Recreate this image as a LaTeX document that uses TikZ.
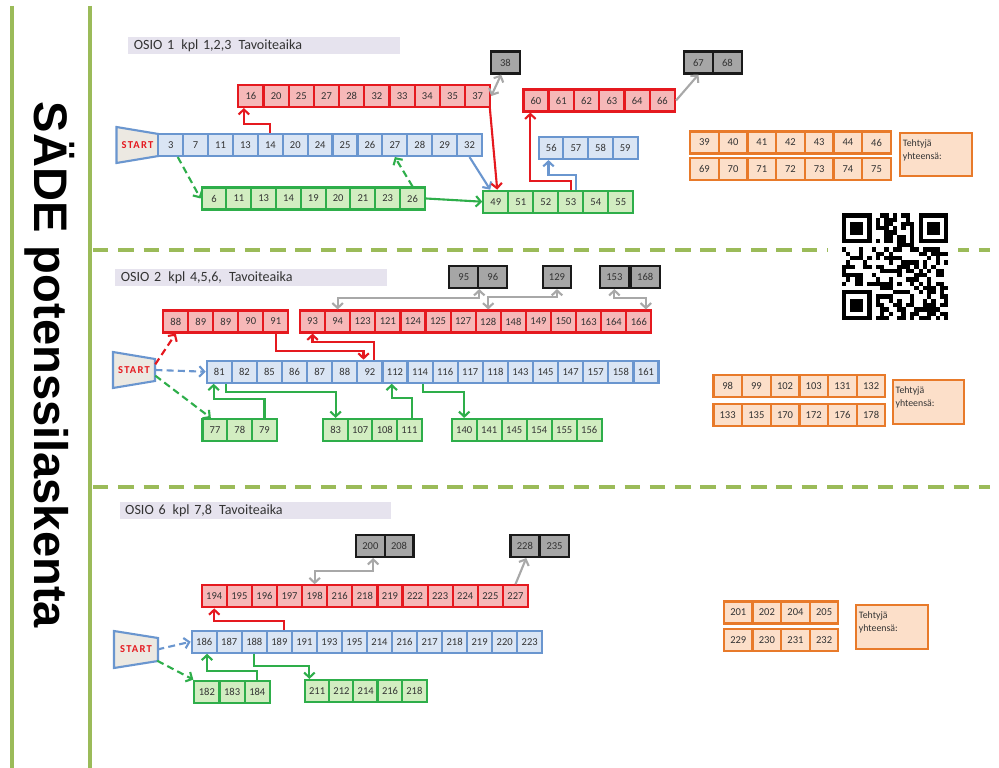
\documentclass[tikz,border=0pt]{standalone}
\usepackage{fontspec}
\setmainfont{Carlito}
\newfontfamily\titlefont{Liberation Sans}
\newfontfamily\startfont[LetterSpace=12]{Carlito}
\usetikzlibrary{arrows.meta}

\definecolor{redline}{HTML}{E5191F}
\definecolor{redfill}{HTML}{F6B8B8}
\definecolor{blueline}{HTML}{6A96CF}
\definecolor{bluefill}{HTML}{DAE5F4}
\definecolor{greenline}{HTML}{2EAE4A}
\definecolor{greenfill}{HTML}{D2EDC1}
\definecolor{grayline}{HTML}{1A1A1A}
\definecolor{grayfill}{HTML}{A6A6A6}
\definecolor{grayarr}{HTML}{A8A8A8}
\definecolor{orangeline}{HTML}{E87A2A}
\definecolor{orangefill}{HTML}{FCDFC9}
\definecolor{sepgreen}{HTML}{9BBB59}
\definecolor{headfill}{HTML}{E6E3EE}
\definecolor{startfill}{HTML}{ECE9E2}
\definecolor{celltext}{HTML}{333333}

\tikzset{
  cell/.style={draw, line width=1.5pt, minimum width=0.625cm, minimum height=0.55cm, inner sep=0pt, text=celltext, font=\fontsize{7.5}{7.5}\selectfont},
  redcell/.style={cell, draw=redline, fill=redfill},
  bluecell/.style={cell, draw=blueline, fill=bluefill},
  greencell/.style={cell, draw=greenline, fill=greenfill},
  graycell/.style={cell, draw=grayline, fill=grayfill, minimum width=0.72cm},
  orangecell/.style={cell, draw=orangeline, fill=orangefill, minimum width=0.71cm},
  totalbox/.style={draw=orangeline, fill=orangefill, line width=1.5pt, inner sep=2pt, anchor=north west, text=celltext, font=\fontsize{7}{9}\selectfont},
  headbar/.style={fill=headfill, anchor=west, minimum height=0.42cm, text width=6.5cm, inner xsep=4pt, inner ysep=0pt, align=left, text=celltext, font=\fontsize{10}{10}\selectfont},
  startshape/.style={draw=blueline, fill=startfill, line width=1.5pt},
  starttext/.style={minimum width=1.05cm, minimum height=0.55cm, inner sep=0pt, text=redline, font=\fontsize{7.5}{7.5}\startfont\bfseries},
  titletext/.style={font=\fontsize{33.5}{33.5}\titlefont\bfseries},
  sepline/.style={draw=sepgreen, line width=2.2pt, dash pattern=on 11pt off 7pt},
  vline/.style={draw=sepgreen, line width=2.2pt},
  redarrow/.style={draw=redline, line width=1.5pt, ->},
  bluearrow/.style={draw=blueline, line width=1.5pt, ->},
  greenarrow/.style={draw=greenline, line width=1.5pt, ->},
  grayarrow/.style={draw=grayarr, line width=1.5pt, ->},
  dashedarrow/.style={dash pattern=on 5pt off 3pt}
}

\begin{document}
\begin{tikzpicture}[x=0.025cm, y=-0.025cm, >={Straight Barb[length=3.5pt,width=7.5pt]}]

\fill[white] (0,0) rectangle (999,768);
\useasboundingbox (0,0) rectangle (999,768);

\draw[vline] (12,6) -- (12,768);
\draw[vline] (90,6) -- (90,768);
\node[titletext, rotate=-90] (title) at (50,365) {SÄDE potenssilaskenta};

\draw[sepline] (93,250) -- (990,250);
\draw[sepline] (93,487) -- (990,487);

\coordinate (start1) at (137.5,145);
\coordinate (start2) at (134,370);
\coordinate (start3) at (136,649.5);

\node[headbar] (h1) at (128,45.5) {OSIO 1\enspace kpl 1,2,3\enspace Tavoiteaika};
\node[headbar] (h2) at (115,277.5) {OSIO 2\enspace kpl 4,5,6,\enspace Tavoiteaika};
\node[headbar] (h3) at (119.3,510.6) {OSIO 6\enspace kpl 7,8\enspace Tavoiteaika};

\draw[startshape] (start1) ++(-21,-18) -- ++(42,7) -- ++(0,22) -- ++(-42,7) -- cycle;
\draw[startshape] (start2) ++(-21,-18) -- ++(42,7) -- ++(0,22) -- ++(-42,7) -- cycle;
\draw[startshape] (start3) ++(-22,-18.5) -- ++(44,7) -- ++(0,23) -- ++(-44,7) -- cycle;
\node[starttext] (s1) at (start1) {START};
\node[starttext] (s2) at (start2) {START};
\node[starttext] (s3) at (start3) {START};

\foreach \v [count=\i] in {3,7,11,13,14,20,24,25,26,27,28,29,32}
  \node[bluecell] (b1-\i) at ({158.3+(\i-0.5)*24.9},145) {\v};
\foreach \v [count=\i] in {16,20,25,27,28,32,33,34,35,37}
  \node[redcell] (r1-\i) at ({238.3+(\i-0.5)*25.2},96) {\v};
\foreach \v [count=\i] in {6,11,13,14,19,20,21,23,26}
  \node[greencell] (g1-\i) at ({201.7+(\i-0.5)*24.8},198.5) {\v};
\foreach \v [count=\i] in {49,51,52,53,54,55}
  \node[greencell] (g1b-\i) at ({483.3+(\i-0.5)*25},201.7) {\v};
\foreach \v [count=\i] in {56,57,58,59}
  \node[bluecell] (b1b-\i) at ({539+(\i-0.5)*24.6},148) {\v};
\foreach \v [count=\i] in {60,61,62,63,64,66}
  \node[redcell] (r1b-\i) at ({523.3+(\i-0.5)*25.3},100.5) {\v};
\foreach \v [count=\i] in {38}
  \node[graycell] (k1-\i) at ({490.7+(\i-0.5)*29.3},62.5) {\v};
\foreach \v [count=\i] in {67,68}
  \node[graycell] (k1b-\i) at ({684+(\i-0.5)*28.9},62.5) {\v};
\foreach \v [count=\i] in {39,40,41,42,43,44,46}
  \node[orangecell] (o1a-\i) at ({690+(\i-0.5)*28.7},142.5) {\v};
\foreach \v [count=\i] in {69,70,71,72,73,74,75}
  \node[orangecell] (o1b-\i) at ({690+(\i-0.5)*28.7},169) {\v};
\node[totalbox] (t1) at (899,131.7) {\parbox[c][0.95cm][t]{1.65cm}{\vspace{3pt}Tehtyjä\\yhteensä:}};

\draw[redarrow] (b1-5.north) -- ++(0,-9) -| ([xshift=-5pt]r1-1.south);
\draw[greenarrow, dashedarrow] ([xshift=5pt]b1-1.south) -- (g1-1.west);
\draw[greenarrow, dashedarrow] (g1-9.north) -- (b1-10.south);
\draw[greenarrow] (g1-9.east) -- (g1b-1.west);
\draw[bluearrow] (b1-13.south) -- ([xshift=-4pt]g1b-1.north);
\draw[redarrow] ([xshift=-1pt]r1-10.south east) -- ([xshift=1pt]g1b-1.north);
\draw[grayarrow, <->] (r1-10.east) -- ([xshift=-3pt]k1-1.south);
\draw[grayarrow] (r1b-6.east) -- (k1b-1.south);
\draw[redarrow] (g1b-4.north) -- ++(0,-8.5) -| ([xshift=-4pt]r1b-1.south);
\draw[bluearrow] ([xshift=4pt]g1b-4.north) -- ++(0,-15) -| ([xshift=-2pt]b1b-1.south);

\foreach \v [count=\i] in {88,89,89,90,91}
  \node[redcell] (r2a-\i) at ({163.3+(\i-0.5)*25},321.5) {\v};
\foreach \v [count=\i] in {93,94,123,121,124,125,127,128,148,149,150,163,164,166}
  \node[redcell] (r2b-\i) at ({300+(\i-0.5)*25.1},321.5) {\v};
\foreach \v [count=\i] in {81,82,85,86,87,88,92,112,114,116,117,118,143,145,147,157,158,161}
  \node[bluecell] (b2-\i) at ({206.7+(\i-0.5)*25.1},371.7) {\v};
\foreach \v [count=\i] in {77,78,79}
  \node[greencell] (g2a-\i) at ({202.7+(\i-0.5)*24.7},430) {\v};
\foreach \v [count=\i] in {83,107,108,111}
  \node[greencell] (g2b-\i) at ({323.3+(\i-0.5)*24.6},430) {\v};
\foreach \v [count=\i] in {140,141,145,154,155,156}
  \node[greencell] (g2c-\i) at ({451.7+(\i-0.5)*25},430) {\v};
\foreach \v [count=\i] in {95,96}
  \node[graycell] (k2a-\i) at ({449.3+(\i-0.5)*29},277) {\v};
\foreach \v [count=\i] in {129}
  \node[graycell] (k2b-\i) at ({542.3+(\i-0.5)*29.4},277) {\v};
\foreach \v [count=\i] in {153,168}
  \node[graycell] (k2c-\i) at ({599+(\i-0.5)*30.8},277) {\v};
\foreach \v [count=\i] in {98,99,102,103,131,132}
  \node[orangecell] (o2a-\i) at ({713.3+(\i-0.5)*28.7},386) {\v};
\foreach \v [count=\i] in {133,135,170,172,176,178}
  \node[orangecell] (o2b-\i) at ({713.3+(\i-0.5)*28.7},415) {\v};
\node[totalbox] (t2) at (891.7,379) {\parbox[c][0.95cm][t]{1.65cm}{\vspace{3pt}Tehtyjä\\yhteensä:}};

\draw[redarrow, dashedarrow] ([yshift=-4pt]s2.north east) -- (r2a-1.south);
\draw[bluearrow, dashedarrow] (s2.east) -- (b2-1.west);
\draw[greenarrow, dashedarrow] ([yshift=4pt]s2.south east) -- ([xshift=-3pt]g2a-1.north);
\draw[redarrow] (r2a-5.south) -- ++(0,17.5) -| ([xshift=-4.5pt]b2-7.north);
\draw[redarrow] ([xshift=3pt]b2-7.north) -- ++(0,-17.4) -| (r2b-1.south);
\draw[greenarrow] (g2a-3.north) -- ++(0,-18.5) -| ([xshift=-4pt]b2-1.south);
\draw[greenarrow] ([xshift=5pt]b2-1.south) -- ++(0,8.5) -| (g2b-1.north);
\draw[greenarrow] ([xshift=2pt]g2b-4.north) -- ++(0,-20) -| ([xshift=-2.3pt]b2-8.south);
\draw[greenarrow] ([xshift=2.3pt]b2-9.south) -- ++(0,8.5) -| (g2c-1.north);
\draw[grayarrow, <->] (r2b-2.north) -- ++(0,-11.5) -| (k2a-1.south east);
\draw[grayarrow, <->] (r2b-8.north) -- ++(0,-12) -| (k2b-1.south);
\draw[grayarrow, <->] (k2c-1.south) -- ++(0,9.2) -| ([xshift=5pt]r2b-14.north);

\foreach \v [count=\i] in {194,195,196,197,198,216,218,219,222,223,224,225,227}
  \node[redcell] (r3-\i) at ({201.7+(\i-0.5)*25.1},596.3) {\v};
\foreach \v [count=\i] in {186,187,188,189,191,193,195,214,216,217,218,219,220,223}
  \node[bluecell] (b3-\i) at ({191.7+(\i-0.5)*25.04},641.7) {\v};
\foreach \v [count=\i] in {182,183,184}
  \node[greencell] (g3a-\i) at ({194.3+(\i-0.5)*25.2},691.7) {\v};
\foreach \v [count=\i] in {211,212,214,216,218}
  \node[greencell] (g3b-\i) at ({305+(\i-0.5)*24.3},691) {\v};
\foreach \v [count=\i] in {200,208}
  \node[graycell] (k3a-\i) at ({356+(\i-0.5)*28.7},546) {\v};
\foreach \v [count=\i] in {228,235}
  \node[graycell] (k3b-\i) at ({510+(\i-0.5)*29.7},546) {\v};
\foreach \v [count=\i] in {201,202,204,205}
  \node[orangecell] (o3a-\i) at ({724+(\i-0.5)*28.6},612.5) {\v};
\foreach \v [count=\i] in {229,230,231,232}
  \node[orangecell] (o3b-\i) at ({724+(\i-0.5)*28.6},640.2) {\v};
\node[totalbox] (t3) at (855,604) {\parbox[c][0.95cm][t]{1.65cm}{\vspace{3pt}Tehtyjä\\yhteensä:}};

\draw[bluearrow, dashedarrow] (s3.east) -- (b3-1.west);
\draw[greenarrow, dashedarrow] (s3.south east) -- (g3a-1.north west);
\draw[redarrow] ([xshift=3pt]b3-4.north) -- ++(0,-8.4) -| (r3-1.south);
\draw[greenarrow] (g3a-3.north) -- ++(0,-9) -| ([xshift=2pt]b3-1.south);
\draw[greenarrow] (b3-3.south) -- ++(0,12.3) -| ([xshift=-5.5pt]g3b-1.north);
\draw[grayarrow, <->] (r3-5.north) -- ++(0,-13.6) -| ([xshift=2pt]k3a-1.south);
\draw[grayarrow] (r3-13.north) -- ([xshift=1pt]k3b-1.south);

\coordinate (qr) at (841.7,213.3);
\fill[white] (828,205) rectangle (958,328);
\pgfmathsetseed{5}
\foreach \i in {0,...,24}
  \foreach \j in {0,...,24} {
    \pgfmathtruncatemacro\qrfree{((\i<8)&&(\j<8))||((\i>16)&&(\j<8))||((\i<8)&&(\j>16))}
    \pgfmathtruncatemacro\qrbit{rnd<0.5}
    \ifnum\qrfree=0 \ifnum\qrbit=1 \fill ([shift={(\i*4.27,\j*4.27)}]qr) rectangle ++(4.3,4.3); \fi\fi
  }
\foreach \a/\b in {0/0,18/0,0/18} {
  \fill ([shift={(\a*4.27,\b*4.27)}]qr) rectangle ++(29.9,29.9);
  \fill[white] ([shift={(\a*4.27+4.27,\b*4.27+4.27)}]qr) rectangle ++(21.35,21.35);
  \fill ([shift={(\a*4.27+8.54,\b*4.27+8.54)}]qr) rectangle ++(12.8,12.8);
}

\end{tikzpicture}
\end{document}
